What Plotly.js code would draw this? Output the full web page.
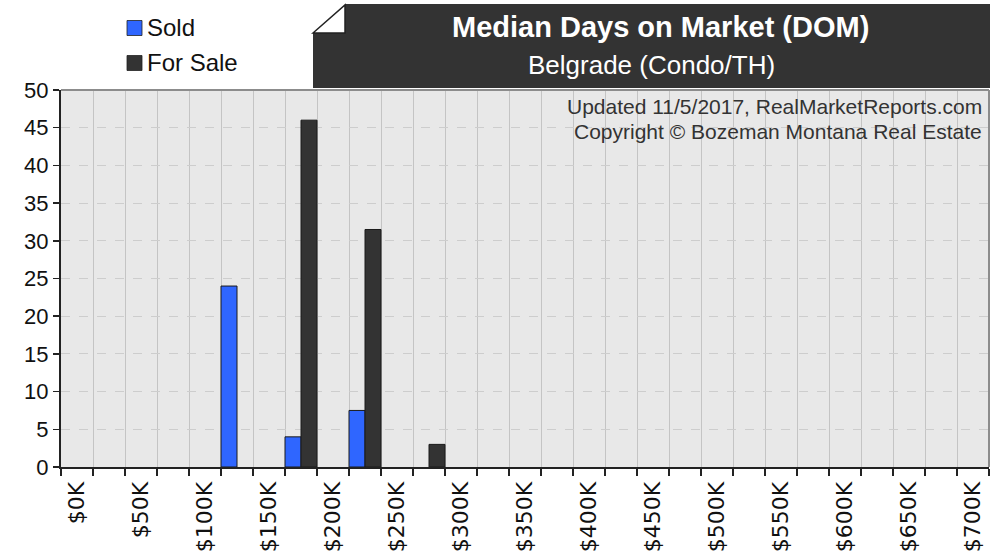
<!DOCTYPE html>
<html>
<head>
<meta charset="utf-8">
<script src="https://cdn.plot.ly/plotly-3.0.1.min.js"></script>
<style>html,body{margin:0;padding:0;background:#fff;}#chart{width:997px;height:560px;}</style>
</head>
<body>
<div id="chart"></div>
<script>
// ---- data ----
const categories = ['$0K','$25K','$50K','$75K','$100K','$125K','$150K','$175K','$200K','$225K','$250K','$275K','$300K','$325K','$350K','$375K','$400K','$425K','$450K','$475K','$500K','$525K','$550K','$575K','$600K','$625K','$650K','$675K','$700K'];
const soldDays    = [null,null,null,null,null,24,null,4,null,7.5,null,null,null,null,null,null,null,null,null,null,null,null,null,null,null,null,null,null,null];
const forSaleDays = [null,null,null,null,null,null,null,46,null,31.5,null,3,null,null,null,null,null,null,null,null,null,null,null,null,null,null,null,null,null];
const tickLabels  = ['$0K','$50K','$100K','$150K','$200K','$250K','$300K','$350K','$400K','$450K','$500K','$550K','$600K','$650K','$700K'];
const seriesNames = ['Sold', 'For Sale'];
const seriesColors = ['#2f66ff', '#333333'];
const chartTitle = 'Median Days on Market (DOM)';
const chartSubtitle = 'Belgrade (Condo/TH)';
const noteLines = ['Updated 11/5/2017, RealMarketReports.com', 'Copyright © Bozeman Montana Real Estate'];

// ---- layout helpers ----
const W = 997, H = 560;
const L = 61, R = 989, T = 90, B = 467;
const px = x => (x - L) / (R - L);
const py = y => (B - y) / (B - T);

const xIdx = categories.map((c, i) => i);
const labelVals = tickLabels.map(t => categories.indexOf(t));
const boundaries = categories.map((c, i) => i - 0.5).concat([categories.length - 0.5]);

const font = 'Liberation Sans, Arial, Helvetica, sans-serif';

const traces = [
  {type:'bar', name:seriesNames[0], x:xIdx, y:soldDays,
   marker:{color:seriesColors[0], line:{color:'#1a1a1a', width:1}}, hoverinfo:'skip'},
  {type:'bar', name:seriesNames[1], x:xIdx, y:forSaleDays,
   marker:{color:seriesColors[1], line:{color:'#1a1a1a', width:1}}, hoverinfo:'skip'}
];

const boxPath = `M ${px(345)},${py(4)} L ${px(990)},${py(4)} L ${px(990)},${py(88)} L ${px(313)},${py(88)} L ${px(313)},${py(33)} L ${px(345)},${py(33)} Z`;
const foldPath = `M ${px(313)},${py(33)} L ${px(345)},${py(5)} L ${px(345)},${py(33)} Z`;

// manual legend
const legendRows = [28, 63];
const legendShapes = seriesNames.map((n, i) => ({
  type: 'rect', xref: 'paper', yref: 'paper',
  x0: px(127), x1: px(142), y0: py(legendRows[i] - 7.5), y1: py(legendRows[i] + 7.5),
  fillcolor: seriesColors[i], line: {color: '#222', width: 0.8}
}));
const legendAnn = seriesNames.map((n, i) => ({
  xref: 'paper', yref: 'paper', x: px(145), y: py(legendRows[i]), xanchor: 'left', yanchor: 'middle',
  showarrow: false, text: n, font: {family: font, size: 24, color: '#111'}
}));

const layout = {
  width: W, height: H,
  margin: {l: L, r: W - R, t: T, b: H - B, pad: 0},
  paper_bgcolor: '#ffffff',
  plot_bgcolor: '#e8e8e8',
  barmode: 'group', bargap: 0, bargroupgap: 0,
  showlegend: false,
  xaxis: {
    range: [-0.5, categories.length - 0.5], fixedrange: true,
    tickmode: 'array', tickvals: labelVals, ticktext: tickLabels,
    tickangle: -90, ticks: '', showgrid: false, zeroline: false,
    tickfont: {family: 'DejaVu Sans, sans-serif', size: 22, color: '#111'},
    ticklabelstandoff: 4,
    showline: true, linecolor: '#222', linewidth: 2,
    minor: {tickmode: 'array', tickvals: boundaries, ticks: 'outside', ticklen: 7,
            tickcolor: '#222', tickwidth: 2, showgrid: true, gridcolor: '#c4c4c4', gridwidth: 1}
  },
  yaxis: {
    range: [0, 50], dtick: 5, tick0: 0, fixedrange: true,
    ticks: 'outside', ticklen: 6, tickcolor: '#222', tickwidth: 1.5,
    tickfont: {family: font, size: 22, color: '#111'},
    showgrid: true, gridcolor: '#cdcdcd', gridwidth: 1, griddash: 'dash',
    zeroline: false, showline: true, linecolor: '#222', linewidth: 2
  },
  shapes: [
    {type: 'line', xref: 'paper', yref: 'paper', x0: 0, x1: 1, y0: 1, y1: 1, line: {color: '#8c8c8c', width: 2}},
    {type: 'line', xref: 'paper', yref: 'paper', x0: 1, x1: 1, y0: 0, y1: 1, line: {color: '#8c8c8c', width: 2}},
    {type: 'path', xref: 'paper', yref: 'paper', path: boxPath, fillcolor: '#333333', line: {width: 0}, layer: 'above'},
    {type: 'path', xref: 'paper', yref: 'paper', path: foldPath, fillcolor: '#ffffff', line: {color: '#222', width: 1.5}, layer: 'above'}
  ].concat(legendShapes),
  annotations: [
    {xref: 'paper', yref: 'paper', x: px(660), y: py(27), xanchor: 'center', yanchor: 'middle', showarrow: false,
     text: '<b>' + chartTitle + '</b>', font: {family: font, size: 29, color: '#ffffff'}},
    {xref: 'paper', yref: 'paper', x: px(651), y: py(65), xanchor: 'center', yanchor: 'middle', showarrow: false,
     text: chartSubtitle, font: {family: font, size: 26, color: '#ffffff'}},
    {xref: 'paper', yref: 'paper', x: px(984), y: py(106), xanchor: 'right', yanchor: 'middle', showarrow: false,
     text: noteLines[0], font: {family: font, size: 21, color: '#333'}},
    {xref: 'paper', yref: 'paper', x: px(984), y: py(131), xanchor: 'right', yanchor: 'middle', showarrow: false,
     text: noteLines[1], font: {family: font, size: 21, color: '#333'}}
  ].concat(legendAnn)
};

Plotly.newPlot('chart', traces, layout, {staticPlot: true, displayModeBar: false});
</script>
</body>
</html>
